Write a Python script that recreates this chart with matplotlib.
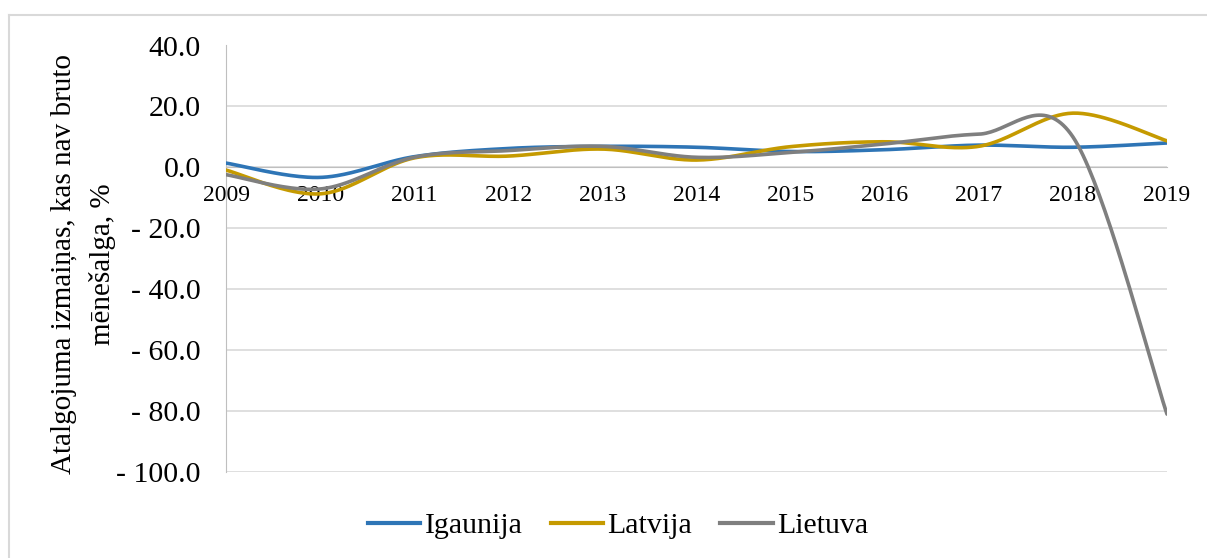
import matplotlib
matplotlib.use("Agg")
import matplotlib.pyplot as plt
import numpy as np
from matplotlib.lines import Line2D

years = [2009, 2010, 2011, 2012, 2013, 2014, 2015, 2016, 2017, 2018, 2019]
igaunija = [1.4, -3.3, 3.5, 6.2, 6.9, 6.6, 5.2, 5.8, 7.3, 6.6, 8.0]
latvija = [-0.9, -8.7, 3.1, 3.7, 6.0, 2.4, 6.8, 8.4, 6.9, 17.8, 8.7]
lietuva = [-2.4, -7.1, 3.3, 5.5, 6.9, 3.3, 4.9, 7.7, 10.9, 10.0, -81.0]

series = [("Igaunija", igaunija, "#2E75B6"),
          ("Latvija", latvija, "#C59A00"),
          ("Lietuva", lietuva, "#7F7F7F")]

plt.rcParams["font.family"] = ["Liberation Serif", "DejaVu Serif"]


def smooth(x, y, n=40):
    # Excel-like smoothed line: cubic Bezier segments, Catmull-Rom control points
    p = np.column_stack([x, y]).astype(float)
    ext = np.vstack([p[0], p, p[-1]])
    out = []
    for i in range(len(p) - 1):
        p0, p1, p2, p3 = ext[i], ext[i + 1], ext[i + 2], ext[i + 3]
        c1 = p1 + (p2 - p0) / 6.0
        c2 = p2 - (p3 - p1) / 6.0
        t = np.linspace(0, 1, n)[:, None]
        seg = ((1 - t) ** 3) * p1 + 3 * ((1 - t) ** 2) * t * c1 + 3 * (1 - t) * t ** 2 * c2 + t ** 3 * p2
        out.append(seg if i == 0 else seg[1:])
    out = np.vstack(out)
    return out[:, 0], out[:, 1]


fig = plt.figure(figsize=(12.07, 5.58), dpi=100)
ax = fig.add_axes([226 / 1207, 1 - 472 / 558, (1167 - 226) / 1207, (472 - 45.5) / 558])

xpos = np.arange(len(years))
for name, vals, color in series:
    sx, sy = smooth(xpos, vals)
    ax.plot(sx, sy, color=color, lw=2.6, solid_capstyle="round", label=name, zorder=3)

ax.set_xlim(0, len(years) - 1)
ax.set_ylim(-100, 40)
ax.set_yticks(np.arange(-100, 41, 20))
ax.yaxis.set_major_formatter(plt.FuncFormatter(
    lambda v, pos: "%.1f" % v if v >= 0 else "- %.1f" % abs(v)))
ax.grid(axis="y", color="#D9D9D9", lw=1.2)
ax.set_axisbelow(True)

ax.spines["bottom"].set_position(("data", 0))
ax.spines["bottom"].set_color("#BFBFBF")
ax.spines["left"].set_color("#BFBFBF")
ax.spines["top"].set_visible(False)
ax.spines["right"].set_visible(False)
ax.set_xticks(xpos)
ax.set_xticklabels([str(y) for y in years])
ax.tick_params(axis="x", length=0, pad=13, labelsize=17)
ax.tick_params(axis="y", length=0, pad=18, labelsize=21.5)

fig.text(64 / 1207, 1 - 264 / 558, "Atalgojuma izmaiņas, kas nav bruto",
         rotation=90, ha="center", va="center", fontsize=21)
fig.text(103 / 1207, 1 - 264 / 558, "mēnešalga, %",
         rotation=90, ha="center", va="center", fontsize=21)

handles = [Line2D([0], [0], color=c, lw=3) for _, _, c in series]
fig.legend(handles, [n for n, _, _ in series], loc="center",
           bbox_to_anchor=(618 / 1207, 1 - 526 / 558), ncol=3, frameon=False,
           fontsize=21.5, handlelength=1.75, handletextpad=0.15, columnspacing=0.95)

# outer chart border (top and left only visible)
fig.add_artist(Line2D([9 / 1207, 1], [1 - 15 / 558, 1 - 15 / 558], color="#D9D9D9", lw=1.5,
                      transform=fig.transFigure))
fig.add_artist(Line2D([9 / 1207, 9 / 1207], [0, 1 - 15 / 558], color="#D9D9D9", lw=1.5,
                      transform=fig.transFigure))

fig.savefig("out.png", dpi=100)
